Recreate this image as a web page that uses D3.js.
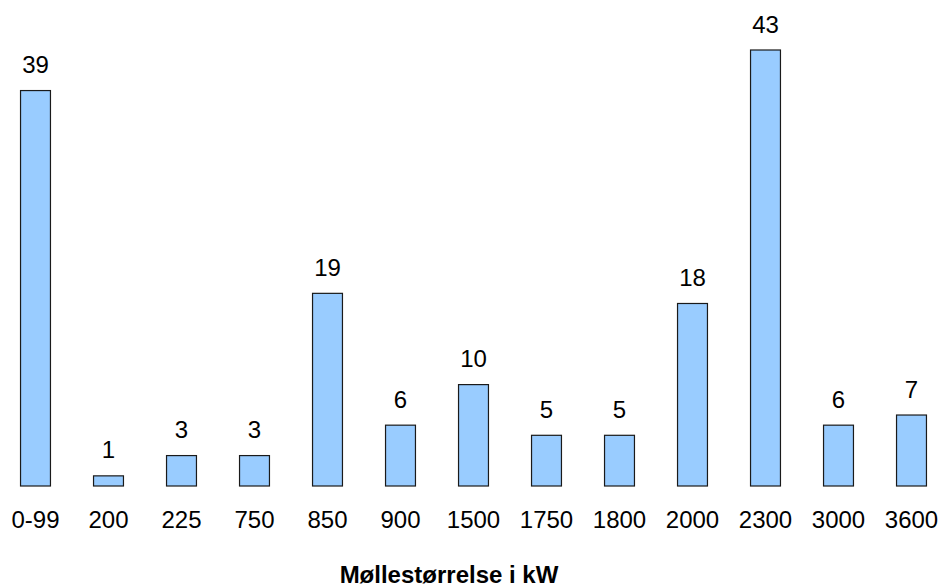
<!DOCTYPE html>
<html>
<head>
<meta charset="utf-8">
<script src="https://cdn.jsdelivr.net/npm/d3@7"></script>
<style>
  html, body { margin: 0; padding: 0; background: #fff; }
  svg { display: block; font-family: Arial, "Liberation Sans", sans-serif; }
</style>
</head>
<body>
<svg id="chart" width="939" height="588"></svg>
<script>
// Turbine counts per size class (kW)
const categories = ["0-99", "200", "225", "750", "850", "900", "1500", "1750", "1800", "2000", "2300", "3000", "3600"];
const counts = [39, 1, 3, 3, 19, 6, 10, 5, 5, 18, 43, 6, 7];
const axisTitle = "Møllestørrelse i kW";

const svg = d3.select("#chart");
const baseY = 486;

const x = d3.scaleBand()
  .domain(categories)
  .range([-1.5, 947.5])
  .paddingInner(0.59)
  .paddingOuter(0.295);

const y = d3.scaleLinear()
  .domain([0, d3.max(counts)])
  .range([baseY, 50]);

const rows = categories.map((c, i) => ({ cat: c, val: counts[i] }));

svg.selectAll("rect.bar").data(rows).join("rect")
  .attr("class", "bar")
  .attr("x", d => x(d.cat) + 0.5)
  .attr("y", d => y(d.val))
  .attr("width", x.bandwidth())
  .attr("height", d => baseY - y(d.val))
  .attr("fill", "#99ccff")
  .attr("stroke", "#1a1a1a")
  .attr("stroke-width", 1.2);

svg.selectAll("text.val").data(rows).join("text")
  .attr("class", "val")
  .attr("x", d => x(d.cat) + x.bandwidth() / 2 + 0.5)
  .attr("y", d => y(d.val) - 17.5)
  .attr("text-anchor", "middle")
  .attr("font-size", 24)
  .attr("fill", "#000")
  .text(d => d.val);

// category axis: labels only, no line or ticks
const axis = svg.append("g")
  .attr("transform", `translate(0.5,${baseY})`)
  .call(d3.axisBottom(x).tickSize(0).tickPadding(0));
axis.select(".domain").remove();
axis.selectAll("text")
  .attr("y", 42)
  .attr("dy", null)
  .attr("font-size", 24)
  .attr("font-family", 'Arial, "Liberation Sans", sans-serif')
  .attr("fill", "#000");

svg.append("text")
  .attr("x", 449)
  .attr("y", 583)
  .attr("text-anchor", "middle")
  .attr("font-size", 24)
  .attr("font-weight", "bold")
  .text(axisTitle);
</script>
</body>
</html>
